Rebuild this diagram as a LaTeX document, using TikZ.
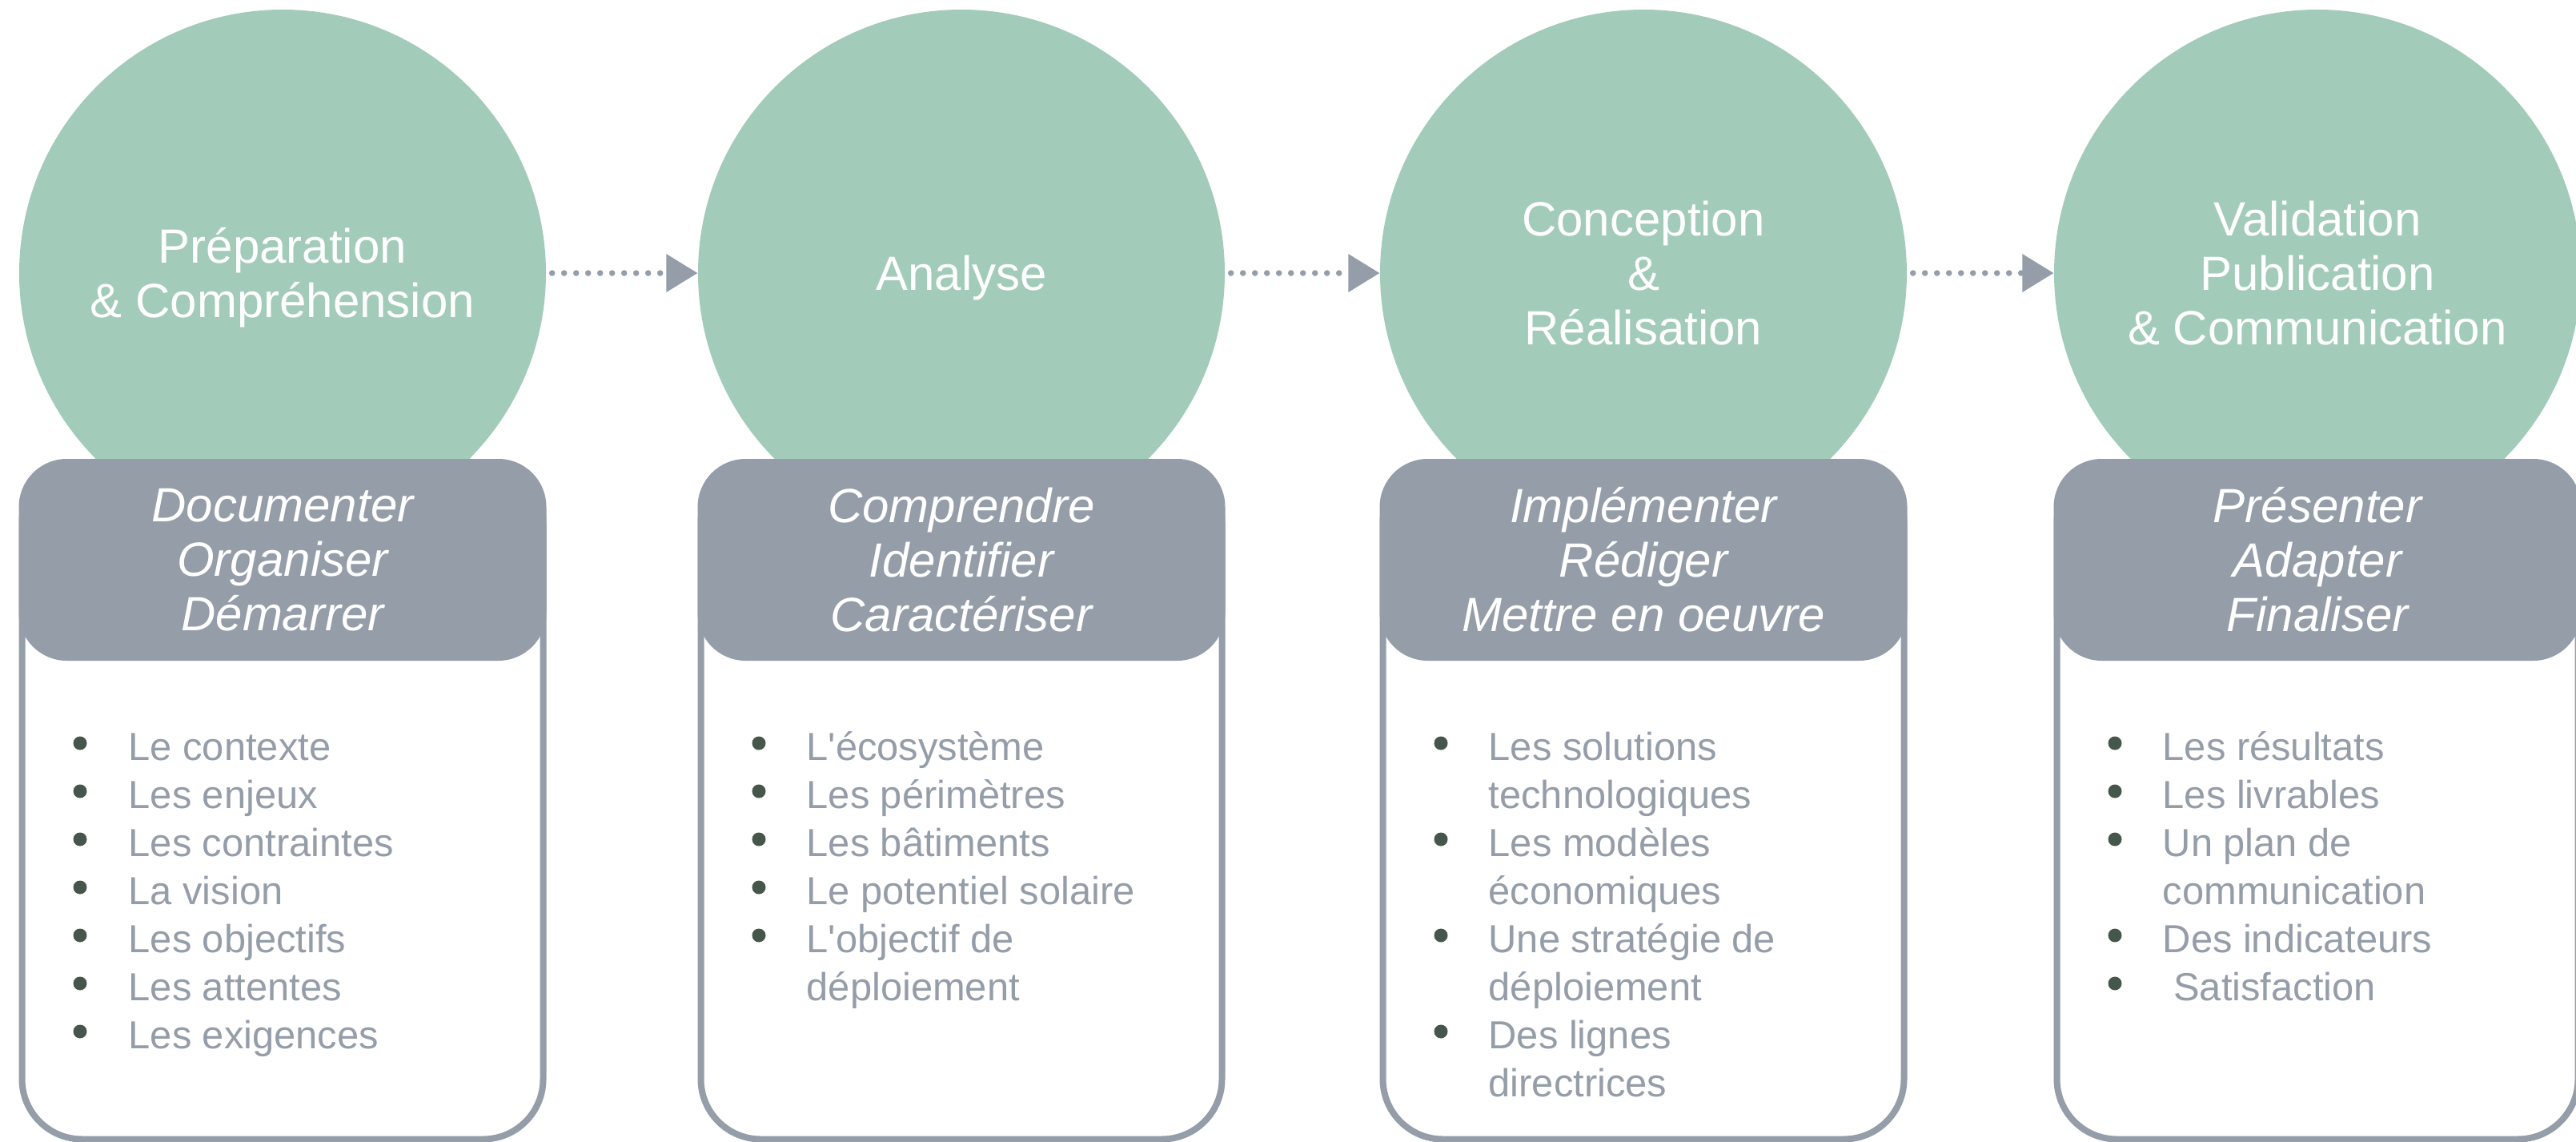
\documentclass[tikz,border=0pt]{standalone}
\usepackage{fontspec}
\setmainfont{Liberation Sans}
\usetikzlibrary{arrows.meta}

\definecolor{phasegreen}{HTML}{A2CCB9}
\definecolor{slate}{HTML}{949DA8}
\definecolor{dotgreen}{HTML}{44574A}

\newcommand{\bigfont}{\fontsize{17.07pt}{19.35pt}\selectfont}
\newcommand{\listfont}{\fontsize{13.9pt}{17.07pt}\selectfont}

\begin{document}
\begin{tikzpicture}[
  phase/.style={circle, fill=phasegreen, minimum size=6.58cm, inner sep=0pt,
                align=center, text=white, font=\bigfont},
  verbs/.style={rectangle, rounded corners=0.6cm, fill=slate, minimum width=6.59cm,
                minimum height=2.52cm, inner sep=0pt, align=center, text=white,
                font=\bigfont\itshape},
  colbox/.style={rectangle, draw=slate, line width=0.08cm, rounded corners=0.75cm,
                 minimum width=6.51cm, minimum height=8.45cm, inner sep=0pt},
  flow/.style={slate, line width=0.075cm, line cap=round, dash pattern=on 0pt off 0.15cm,
               shorten <=0.07cm, -{Triangle[length=0.39cm, width=0.48cm, line width=0pt]}},
  entry/.style={anchor=base west, inner sep=0pt, text=slate, font=\listfont},
  puce/.style={circle, fill=dotgreen, minimum size=0.17cm, inner sep=0pt},
]
\useasboundingbox (0,0) rectangle (32.18,-14.26);

% phases
\node[phase] (c1) at (3.53,-3.41) {\rule{0pt}{0.55cm}Préparation\\\& Compréhension};
\node[phase] (c2) at (12.01,-3.41) {\rule{0pt}{0.56cm}Analyse};
\node[phase] (c3) at (20.53,-3.41) {Conception\\\&\\Réalisation};
\node[phase] (c4) at (28.95,-3.41) {Validation\\Publication\\\& Communication};

\draw[flow] (c1) -- (c2);
\draw[flow] (c2) -- (c3);
\draw[flow] (c3) -- (c4);

% boxes under each phase
\node[colbox] (f1) at (3.53,-10.0) {};
\node[colbox] (f2) at (12.01,-10.0) {};
\node[colbox] (f3) at (20.53,-10.0) {};
\node[colbox] (f4) at (28.95,-10.0) {};

\node[verbs] (h1) at (3.53,-6.99) {Documenter\\Organiser\\Démarrer};
\node[verbs] (h2) at (12.01,-6.99) {Comprendre\\Identifier\\Caractériser};
\node[verbs] (h3) at (20.53,-6.99) {Implémenter\\Rédiger\\Mettre en oeuvre};
\node[verbs] (h4) at (28.95,-6.99) {Présenter\\Adapter\\Finaliser};

% lists (1 = new bullet, 0 = continued line)
\foreach \b/\t [count=\i from 0] in {1/Le contexte, 1/Les enjeux, 1/Les contraintes,
    1/La vision, 1/Les objectifs, 1/Les attentes, 1/Les exigences} {
  \node[entry] (l1-\i) at (1.60,-9.49-0.6*\i) {\t};
  \ifnum\b=1 \node[puce] (p1-\i) at (1.00,-9.28-0.6*\i) {}; \fi
}
\foreach \b/\t [count=\i from 0] in {1/L\textquotesingle écosystème, 1/Les périmètres,
    1/Les bâtiments, 1/Le potentiel solaire, 1/L\textquotesingle objectif de, 0/déploiement} {
  \node[entry] (l2-\i) at (10.07,-9.49-0.6*\i) {\t};
  \ifnum\b=1 \node[puce] (p2-\i) at (9.48,-9.28-0.6*\i) {}; \fi
}
\foreach \b/\t [count=\i from 0] in {1/Les solutions, 0/technologiques, 1/Les modèles,
    0/économiques, 1/Une stratégie de, 0/déploiement, 1/Des lignes, 0/directrices} {
  \node[entry] (l3-\i) at (18.59,-9.49-0.6*\i) {\t};
  \ifnum\b=1 \node[puce] (p3-\i) at (18.00,-9.28-0.6*\i) {}; \fi
}
\foreach \b/\t [count=\i from 0] in {1/Les résultats, 1/Les livrables, 1/Un plan de,
    0/communication, 1/Des indicateurs, 1/{\ }Satisfaction} {
  \node[entry] (l4-\i) at (27.01,-9.49-0.6*\i) {\t};
  \ifnum\b=1 \node[puce] (p4-\i) at (26.42,-9.28-0.6*\i) {}; \fi
}
\end{tikzpicture}
\end{document}
